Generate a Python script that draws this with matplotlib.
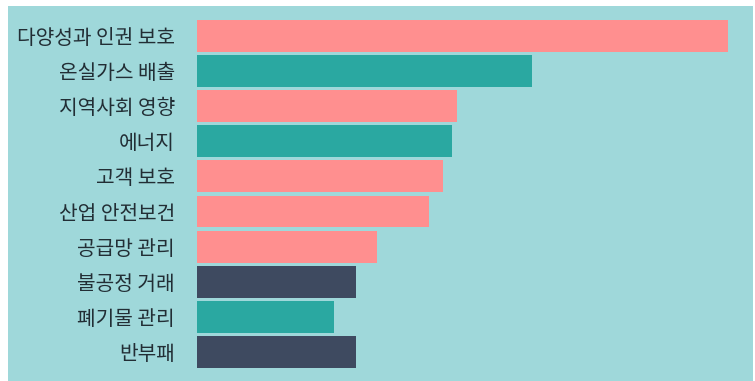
import matplotlib.pyplot as plt
from matplotlib.patches import Rectangle

plt.rcParams['font.family'] = ['Noto Sans CJK KR', 'DejaVu Sans']

# categories, top to bottom
labels = ["다양성과 인권 보호", "온실가스 배출", "지역사회 영향", "에너지", "고객 보호",
          "산업 안전보건", "공급망 관리", "불공정 거래", "폐기물 관리", "반부패"]
values = [100, 63, 49, 48, 46.3, 43.7, 33.9, 29.9, 25.8, 29.9]
groups = ["s", "e", "s", "e", "s", "s", "s", "g", "e", "g"]

colors = {"s": "#ff8f8f", "e": "#2aa8a1", "g": "#3e4a60"}
bg = "#9fd8da"

fig = plt.figure(figsize=(7.55, 3.81), dpi=100, facecolor="white")
# teal background panel with small white margin left/top
fig.patches.append(Rectangle((8 / 755, 0), 1 - 10 / 755, 1 - 6 / 381,
                             transform=fig.transFigure, facecolor=bg,
                             edgecolor="none", zorder=-1))

ax = fig.add_axes([197 / 755, 1 - 369.5 / 381, 531 / 755, 351.1 / 381])
ax.set_facecolor("none")

y = range(len(labels))
ax.barh(y, values, height=0.91, color=[colors[g] for g in groups])

ax.set_xlim(0, 100)
ax.set_ylim(len(labels) - 0.5, -0.5)
ax.set_yticks(list(y))
ax.set_yticklabels(labels, fontsize=14.6, color="#222e35", fontweight="medium")
ax.tick_params(axis="y", length=0, pad=16)
ax.set_xticks([])
for s in ax.spines.values():
    s.set_visible(False)

fig.savefig("out.png", dpi=100, facecolor=fig.get_facecolor())
